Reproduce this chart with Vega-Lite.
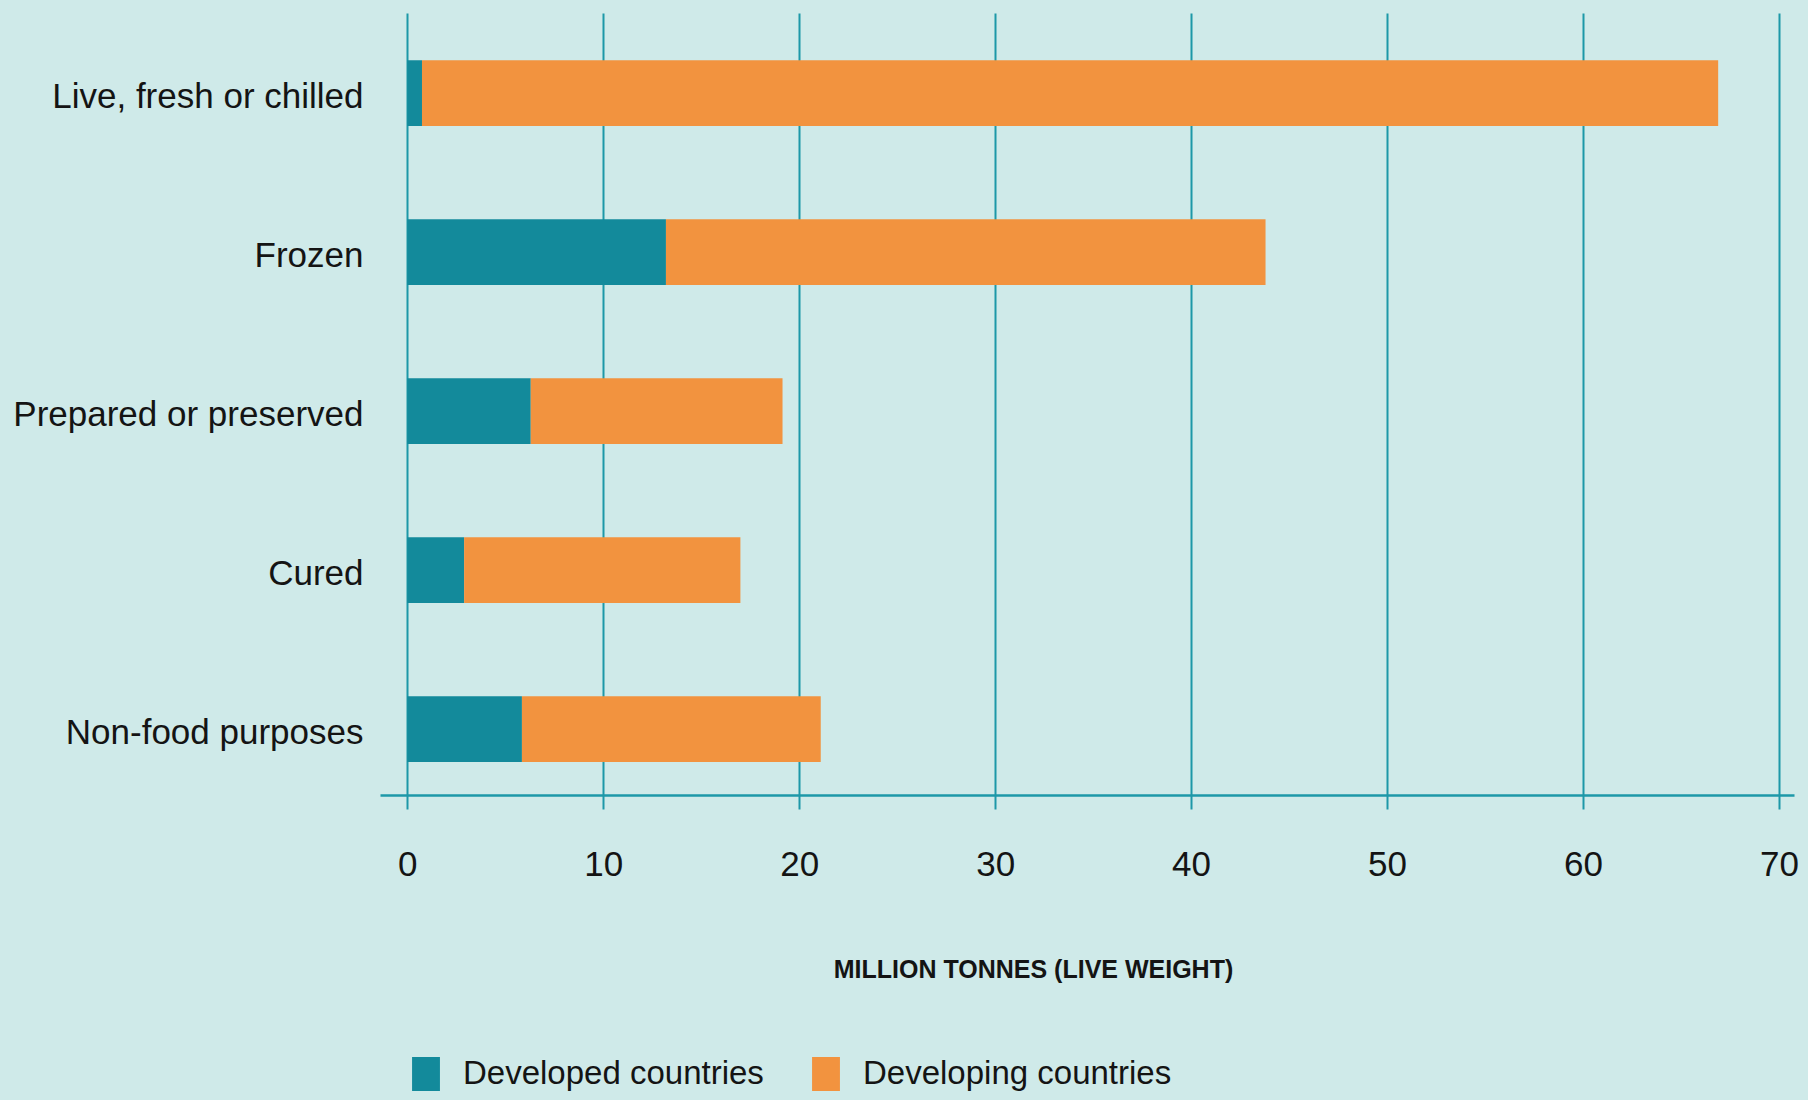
{
  "$schema": "https://vega.github.io/schema/vega-lite/v6.json",
  "autosize": {"type": "none"},
  "width": 1414,
  "height": 782,
  "padding": {"left": 380, "top": 13, "right": 14, "bottom": 305},
  "background": "#cfeae9",
  "config": {
    "view": {"stroke": null},
    "font": "Liberation Sans, Arial, sans-serif"
  },
  "data": {
    "values": [
      {"category": "Live, fresh or chilled", "group": "Developed countries", "value": 0.75},
      {"category": "Live, fresh or chilled", "group": "Developing countries", "value": 66.15},
      {"category": "Frozen", "group": "Developed countries", "value": 13.2},
      {"category": "Frozen", "group": "Developing countries", "value": 30.6},
      {"category": "Prepared or preserved", "group": "Developed countries", "value": 6.3},
      {"category": "Prepared or preserved", "group": "Developing countries", "value": 12.85},
      {"category": "Cured", "group": "Developed countries", "value": 2.9},
      {"category": "Cured", "group": "Developing countries", "value": 14.1},
      {"category": "Non-food purposes", "group": "Developed countries", "value": 5.85},
      {"category": "Non-food purposes", "group": "Developing countries", "value": 15.25}
    ]
  },
  "mark": {"type": "bar", "strokeWidth": 0},
  "encoding": {
    "y": {
      "field": "category",
      "type": "nominal",
      "sort": ["Live, fresh or chilled", "Frozen", "Prepared or preserved", "Cured", "Non-food purposes"],
      "scale": {"paddingInner": 0.587, "paddingOuter": 0.2525, "align": 0.589},
      "axis": {
        "title": null,
        "domain": false,
        "ticks": false,
        "grid": false,
        "labelFontSize": 35,
        "labelColor": "#141414",
        "labelPadding": 17,
        "labelOffset": 4,
        "labelLimit": 400
      }
    },
    "x": {
      "field": "value",
      "type": "quantitative",
      "stack": "zero",
      "scale": {"domain": [-1.393, 70.77], "nice": false, "zero": false},
      "axis": {
        "values": [0, 10, 20, 30, 40, 50, 60, 70],
        "title": "MILLION TONNES (LIVE WEIGHT)",
        "titleFontSize": 25,
        "titleFontWeight": "bold",
        "titleColor": "#141414",
        "titleX": 653,
        "titleY": 182,
        "titleBaseline": "alphabetic",
        "titleAnchor": "middle",
        "titleAlign": "center",
        "labelFontSize": 35,
        "labelColor": "#141414",
        "labelBaseline": "alphabetic",
        "labelPadding": 66,
        "labelFlush": false,
        "tickSize": 14,
        "tickWidth": 2,
        "tickColor": "#1d98a8",
        "domainColor": "#1d98a8",
        "domainWidth": 2.5,
        "grid": true,
        "gridColor": "#1d98a8",
        "gridWidth": 2,
        "gridOpacity": 1
      }
    },
    "color": {
      "field": "group",
      "type": "nominal",
      "scale": {"domain": ["Developed countries", "Developing countries"], "range": ["#138a9b", "#f2933f"]},
      "legend": {
        "title": null,
        "orient": "none",
        "direction": "horizontal",
        "legendX": 29,
        "legendY": 1044,
        "padding": 0,
        "symbolType": "M-0.82,-1H0.82V1H-0.82Z",
        "symbolSize": 1156,
        "symbolStrokeWidth": 0,
        "symbolOpacity": 1,
        "labelFontSize": 33,
        "labelColor": "#141414",
        "labelOffset": 20,
        "columnPadding": 45,
        "labelLimit": 500
      }
    }
  }
}
